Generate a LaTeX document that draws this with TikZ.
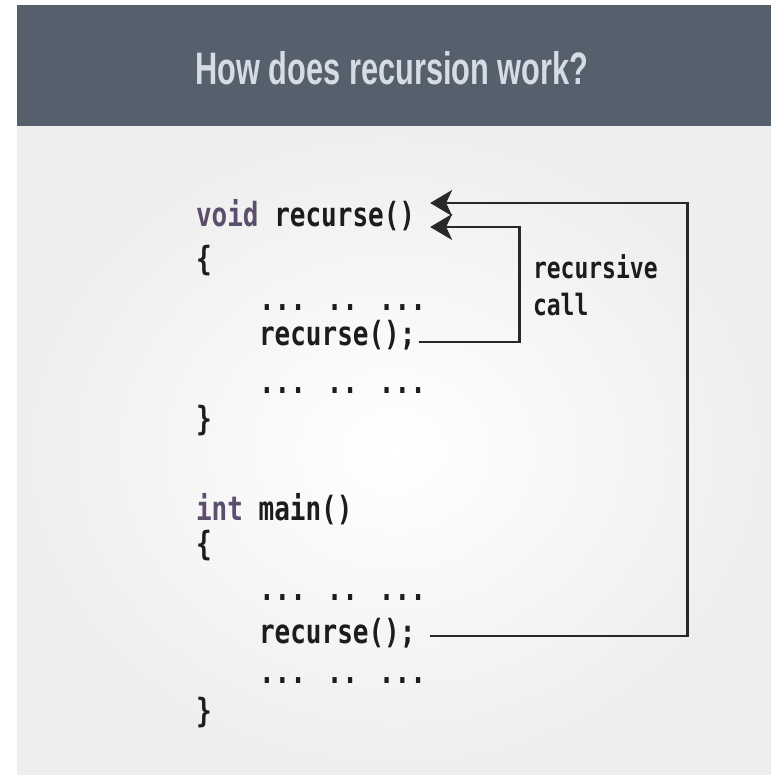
\documentclass[tikz,border=0pt]{standalone}
\usepackage{fontspec}
\usetikzlibrary{arrows.meta,calc}
\newfontfamily\codefont{DejaVu Sans Mono}
\newfontfamily\titlefont{Liberation Sans}
\definecolor{hdr}{RGB}{86,96,108}
\definecolor{ttl}{RGB}{214,220,228}
\definecolor{kw}{RGB}{92,78,108}
\definecolor{txt}{RGB}{28,28,28}
\definecolor{edge}{RGB}{238,238,238}
\definecolor{lin}{RGB}{40,40,40}
\newcommand{\cd}[1]{\scalebox{1}[1.28]{\fontsize{26}{26}\selectfont\codefont\bfseries #1}}
\newcommand{\lb}[1]{\scalebox{1}[1.28]{\fontsize{23}{23}\selectfont\codefont\bfseries #1}}
\newcommand{\kwd}[1]{\textcolor{kw}{#1}}
\tikzset{
  codeline/.style={anchor=base west, inner sep=0pt, outer sep=0pt, text=txt},
  conn/.style={draw=lin, line width=2.2pt},
  arr/.style={-{Stealth[length=22pt,width=26pt,inset=6pt]}}
}
\begin{document}
\begin{tikzpicture}[x=1pt,y=-1pt]
\useasboundingbox (0,0) rectangle (771,775);
\fill[white] (0,0) rectangle (771,775);
% body
\shade[inner color=white, outer color=edge] (17,126) rectangle (771,775);
% header
\fill[hdr] (17,5) rectangle (771,126);
\node[anchor=base, inner sep=0pt, text=ttl] (title) at (392,85)
  {\resizebox{393pt}{33pt}{\titlefont\bfseries How does recursion work?}};
% code
\node[codeline] (l1) at (196,227) {\cd{\kwd{void} recurse()}};
\node[codeline] (l2) at (196,270) {\cd{\{}};
\node[codeline] (l3) at (259,310) {\cd{... .. ...}};
\node[codeline] (rec1) at (259,345) {\cd{recurse();}};
\node[codeline] (l5) at (259,393) {\cd{... .. ...}};
\node[codeline] (l6) at (196,430) {\cd{\}}};
\node[codeline] (l7) at (196,520) {\cd{\kwd{int} main()}};
\node[codeline] (l8) at (196,555) {\cd{\{}};
\node[codeline] (l9) at (259,600) {\cd{... .. ...}};
\node[codeline] (rec2) at (259,643) {\cd{recurse();}};
\node[codeline] (l11) at (259,683) {\cd{... .. ...}};
\node[codeline] (l12) at (196,722) {\cd{\}}};
% label
\node[codeline] (lbA) at (533,278) {\lb{recursive}};
\node[codeline] (lbB) at (533,315) {\lb{call}};
% arrow tips
\coordinate (tipout) at ($(l1.base east)+(15pt,24pt)$);
\coordinate (tipin) at ($(l1.base east)+(15pt,0pt)$);
% connectors
\draw[conn,arr] ([xshift=3pt,yshift=3pt]rec1.base east) -- ++(101,0) |- (tipin);
\draw[conn,arr] ([xshift=14pt,yshift=7pt]rec2.base east) -- ++(258,0) |- (tipout);
\end{tikzpicture}
\end{document}
